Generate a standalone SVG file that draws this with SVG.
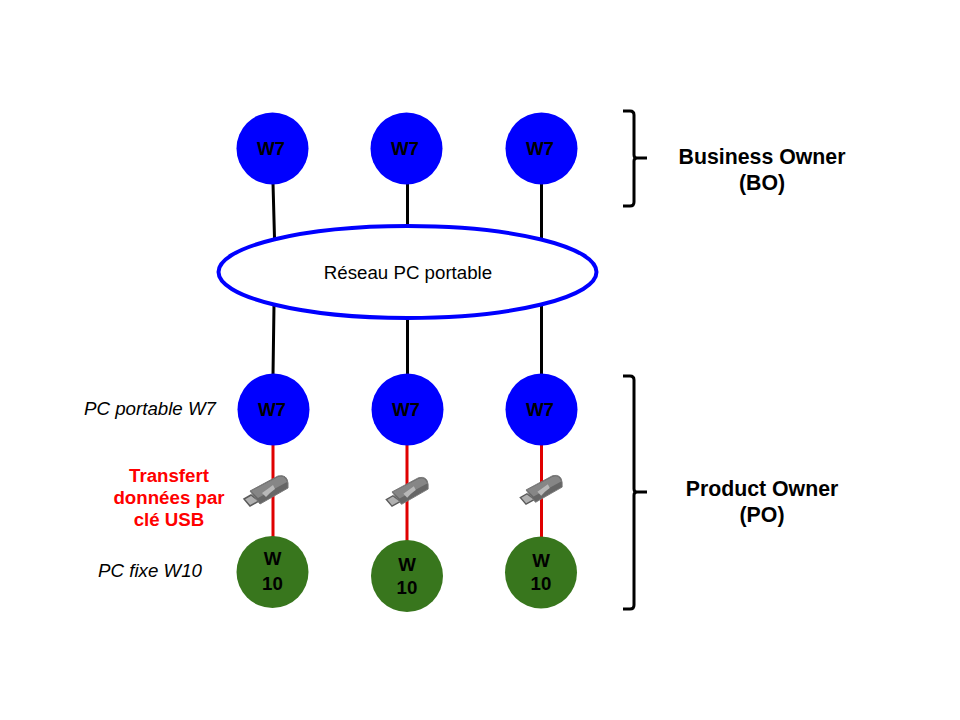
<svg xmlns="http://www.w3.org/2000/svg" width="960" height="720" viewBox="0 0 960 720">
<style>
text{font-family:"Liberation Sans",Arial,sans-serif;text-anchor:middle}
.b{fill:#0000ff}.g{fill:#38761d}
.n{font-size:18.700px;font-weight:bold;fill:#000}
.k{stroke:#000;stroke-width:3;fill:none}
.r{stroke:#e00000;stroke-width:3;fill:none}
.br{stroke:#000;stroke-width:3;fill:none}
.h{font-size:21.300px;font-weight:bold;fill:#000}
.i{font-size:18.700px;font-style:italic;fill:#000}
.t{font-size:18.700px;font-weight:bold;fill:#ff0000}
</style>
<defs>
<g id="usb">
<path d="M-26 9L-19 5L-11 11L-20 16Z" fill="#b0b0b0" stroke="#5a5a5a" stroke-width="1.500"/>
<path d="M-20 1L8 -14Q17 -16 18 -7L18 -2L-10 14Z" fill="#666" stroke="#777" stroke-width="1"/>
<path d="M-19 1L8 -13Q15 -15 17 -8L-12 8Z" fill="#868686"/>
<path d="M-8 3L-1 -2L3 -5L5 -1L0 3L-4 7Z" fill="#b8b8b8"/>
</g>
</defs>
<g id="connectors">
<path class="k" d="M273 183L274.500 238M407.500 183V226M541.500 183V238M274 305L273 375M407.500 318V375M541.500 305V375"/>
<path class="r" d="M273 445V537M407 445V541M541.500 445V538"/>
</g>
<g id="n-net"><ellipse cx="407.500" cy="272" rx="189" ry="46" fill="#fff" stroke="#0000ff" stroke-width="4"/><text x="408" y="279" font-size="18.700">Réseau PC portable</text></g>
<g id="n-bo1"><circle class="b" cx="272.500" cy="148.500" r="36"/><text class="n" x="271" y="155">W7</text></g>
<g id="n-bo2"><circle class="b" cx="406.500" cy="148.500" r="36"/><text class="n" x="405" y="155">W7</text></g>
<g id="n-bo3"><circle class="b" cx="541.500" cy="148.500" r="36"/><text class="n" x="540" y="155">W7</text></g>
<g id="n-po1"><circle class="b" cx="273.500" cy="409.500" r="36"/><text class="n" x="272" y="416">W7</text></g>
<g id="n-po2"><circle class="b" cx="407.500" cy="409.500" r="36"/><text class="n" x="406" y="416">W7</text></g>
<g id="n-po3"><circle class="b" cx="541.500" cy="409.500" r="36"/><text class="n" x="540" y="416">W7</text></g>
<g id="n-w1"><circle class="g" cx="272.500" cy="572" r="36"/><text class="n" x="272.500" y="565">W</text><text class="n" x="272.500" y="590">10</text></g>
<g id="n-w2"><circle class="g" cx="407" cy="576" r="36"/><text class="n" x="407" y="571">W</text><text class="n" x="407" y="594">10</text></g>
<g id="n-w3"><circle class="g" cx="541" cy="572.500" r="36"/><text class="n" x="541" y="567">W</text><text class="n" x="541" y="590">10</text></g>
<g id="usb1"><use href="#usb" transform="translate(270 490)"/></g>
<g id="usb2"><use href="#usb" transform="translate(411 491) scale(.95)"/></g>
<g id="usb3"><use href="#usb" transform="translate(545 489) scale(.95)"/></g>
<g id="brace-bo"><path class="br" d="M623 111H630Q634 111 634 115V155Q634 158 637 158H647M637 158Q634 158 634 161V202Q634 206 630 206H623"/></g>
<g id="brace-po"><path class="br" d="M623 376H630Q634 376 634 380V489Q634 492 637 492H647M637 492Q634 492 634 495V605Q634 609 630 609H623"/></g>
<g id="labels">
<text class="h" x="762" y="164">Business Owner</text><text class="h" x="762" y="190">(BO)</text>
<text class="h" x="762" y="496">Product Owner</text><text class="h" x="762" y="522">(PO)</text>
<text class="i" x="150" y="415">PC portable W7</text>
<text class="i" x="150" y="577">PC fixe W10</text>
<text class="t" x="169" y="482">Transfert</text>
<text class="t" x="169" y="504">données par</text>
<text class="t" x="169" y="526">clé USB</text>
</g>
</svg>
